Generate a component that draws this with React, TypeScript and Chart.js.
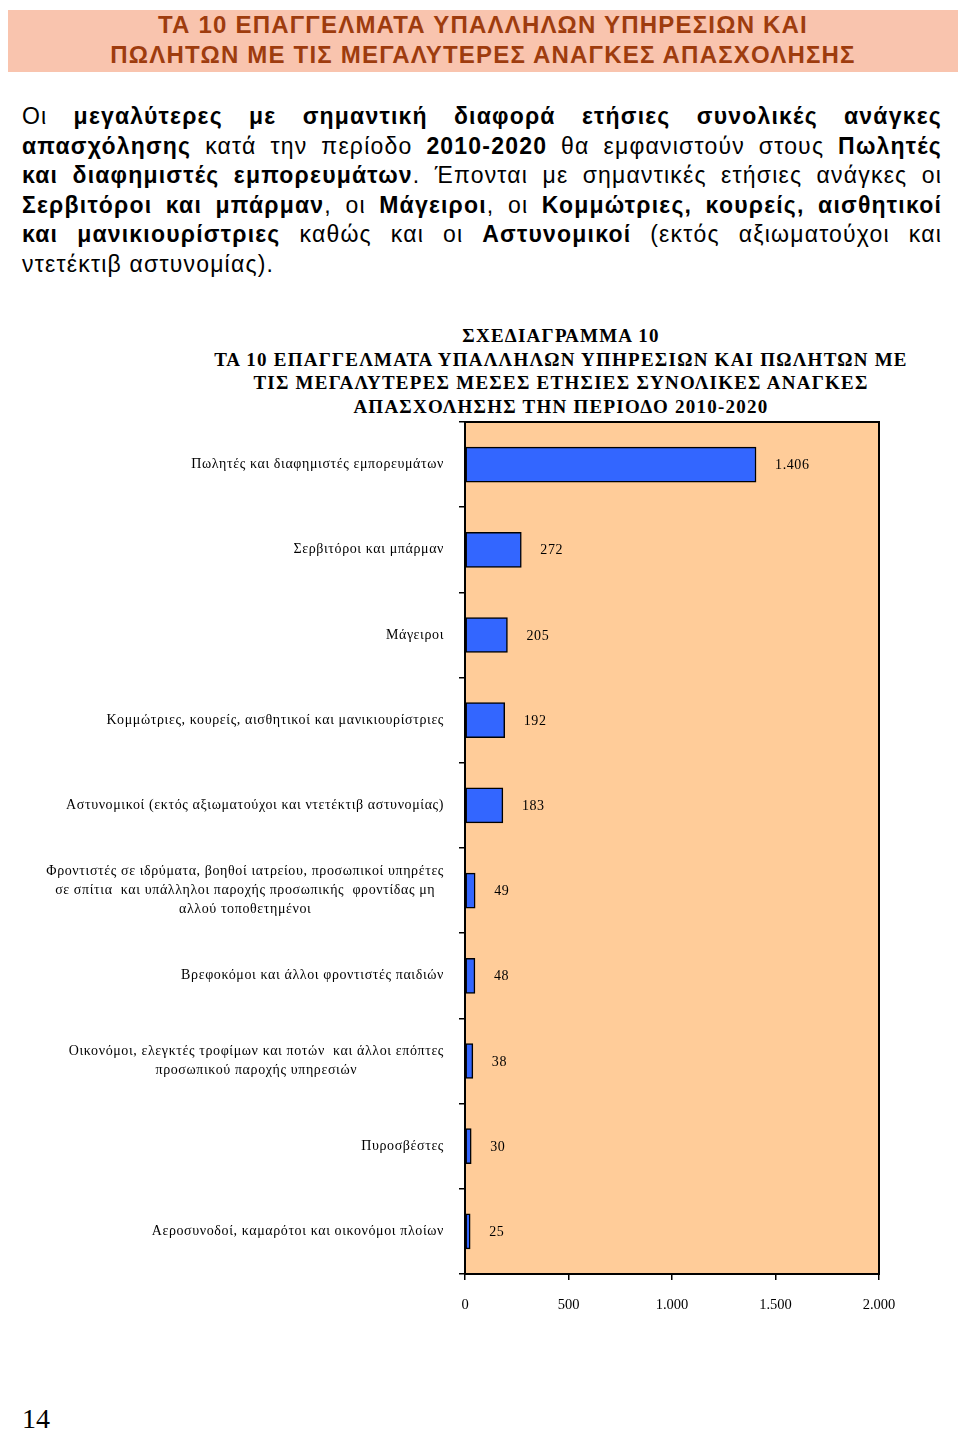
import React, { useEffect, useRef } from "react";
import { Chart, registerables } from "chart.js";

Chart.register(...registerables);

// ---- Data ----
const categories: string[][] = [
  ["Πωλητές και διαφημιστές εμπορευμάτων"],
  ["Σερβιτόροι και μπάρμαν"],
  ["Μάγειροι"],
  ["Κομμώτριες, κουρείς, αισθητικοί και μανικιουρίστριες"],
  ["Αστυνομικοί (εκτός αξιωματούχοι και ντετέκτιβ αστυνομίας)"],
  [
    "Φροντιστές σε ιδρύματα, βοηθοί ιατρείου, προσωπικοί υπηρέτες",
    "σε σπίτια  και υπάλληλοι παροχής προσωπικής  φροντίδας μη",
    "αλλού τοποθετημένοι",
  ],
  ["Βρεφοκόμοι και άλλοι φροντιστές παιδιών"],
  [
    "Οικονόμοι, ελεγκτές τροφίμων και ποτών  και άλλοι επόπτες",
    "προσωπικού παροχής υπηρεσιών",
  ],
  ["Πυροσβέστες"],
  ["Αεροσυνοδοί, καμαρότοι και οικονόμοι πλοίων"],
];
const values: number[] = [1406, 272, 205, 192, 183, 49, 48, 38, 30, 25];
const xTickValues: number[] = [0, 500, 1000, 1500, 2000];

const headerLines: string[] = [
  "ΤΑ 10 ΕΠΑΓΓΕΛΜΑΤΑ ΥΠΑΛΛΗΛΩΝ ΥΠΗΡΕΣΙΩΝ ΚΑΙ",
  "ΠΩΛΗΤΩΝ ΜΕ ΤΙΣ ΜΕΓΑΛΥΤΕΡΕΣ ΑΝΑΓΚΕΣ ΑΠΑΣΧΟΛΗΣΗΣ",
];
const chartTitleLines: string[] = [
  "ΣΧΕΔΙΑΓΡΑΜΜΑ 10",
  "ΤΑ 10 ΕΠΑΓΓΕΛΜΑΤΑ ΥΠΑΛΛΗΛΩΝ ΥΠΗΡΕΣΙΩΝ ΚΑΙ ΠΩΛΗΤΩΝ ΜΕ",
  "ΤΙΣ ΜΕΓΑΛΥΤΕΡΕΣ ΜΕΣΕΣ ΕΤΗΣΙΕΣ ΣΥΝΟΛΙΚΕΣ ΑΝΑΓΚΕΣ",
  "ΑΠΑΣΧΟΛΗΣΗΣ ΤΗΝ ΠΕΡΙΟΔΟ 2010-2020",
];
// paragraph lines: [text, bold] segments
const paragraphLines: [string, boolean][][] = [
  [["Οι ", false], ["μεγαλύτερες με σημαντική διαφορά ετήσιες συνολικές ανάγκες", true]],
  [["απασχόλησης", true], [" κατά την περίοδο ", false], ["2010-2020", true], [" θα εμφανιστούν στους ", false], ["Πωλητές", true]],
  [["και διαφημιστές εμπορευμάτων", true], [". Έπονται με σημαντικές ετήσιες ανάγκες οι", false]],
  [["Σερβιτόροι και μπάρμαν", true], [", οι ", false], ["Μάγειροι", true], [", οι ", false], ["Κομμώτριες, κουρείς, αισθητικοί", true]],
  [["και μανικιουρίστριες", true], [" καθώς και οι ", false], ["Αστυνομικοί", true], [" (εκτός αξιωματούχοι και", false]],
  [["ντετέκτιβ αστυνομίας).", false]],
];

const fmt = (v: number): string =>
  String(Math.round(v)).replace(/\B(?=(\d{3})+(?!\d))/g, ".");

const SERIF = '"Liberation Serif", "Times New Roman", serif';
const SANS = '"Liberation Sans", Arial, sans-serif';

const CANVAS_TOP = 412;
const CANVAS_H = 930;
const AREA_LEFT = 465;
const AREA_RIGHT = 879;
const AREA_TOP = 422;
const AREA_BOTTOM = 1274;
const LABEL_RIGHT = 444;

export default function App() {
  const ref = useRef<HTMLCanvasElement | null>(null);

  useEffect(() => {
    if (!ref.current) return;
    const areaPlugin = {
      id: "areaPlugin",
      beforeDraw(chart: any) {
        const { ctx, chartArea: a } = chart;
        ctx.save();
        ctx.fillStyle = "#FFCC99";
        ctx.fillRect(a.left, a.top, a.right - a.left, a.bottom - a.top);
        ctx.restore();
      },
      afterDraw(chart: any) {
        const { ctx, chartArea: a } = chart;
        ctx.save();
        ctx.strokeStyle = "#000";
        ctx.lineWidth = 2;
        ctx.strokeRect(a.left, a.top, a.right - a.left, a.bottom - a.top);
        // category labels
        const yScale = chart.scales.y;
        ctx.font = `14px ${SERIF}`;
        (ctx as any).letterSpacing = "0.6px";
        ctx.fillStyle = "#000";
        ctx.textAlign = "center";
        ctx.textBaseline = "middle";
        categories.forEach((lines, i) => {
          const y = yScale.getPixelForValue(i);
          const maxW = Math.max(...lines.map((l) => ctx.measureText(l).width));
          const cx = LABEL_RIGHT - maxW / 2;
          const lh = 19;
          const y0 = y - ((lines.length - 1) * lh) / 2;
          lines.forEach((l, j) => ctx.fillText(l, cx, y0 + j * lh));
        });
        // value labels
        const meta = chart.getDatasetMeta(0);
        ctx.textAlign = "left";
        meta.data.forEach((bar: any, i: number) => {
          ctx.fillText(fmt(values[i]), bar.x + 19, bar.y + 1);
        });
        ctx.restore();
      },
    };

    const chart = new Chart(ref.current, {
      type: "bar",
      data: {
        labels: categories.map((c) => c.join(" ")),
        datasets: [
          {
            data: values,
            backgroundColor: "#3366FF",
            borderColor: "#000000",
            borderWidth: 1.5,
            borderSkipped: false,
            barThickness: 35,
          },
        ],
      },
      options: {
        indexAxis: "y",
        responsive: false,
        animation: false,
        layout: { padding: { top: AREA_TOP - CANVAS_TOP, right: 960 - AREA_RIGHT, left: 0, bottom: 0 } },
        plugins: {
          legend: { display: false },
          tooltip: { enabled: false },
          title: { display: false },
        },
        scales: {
          x: {
            min: 0,
            max: 2000,
            afterBuildTicks: (s: any) => {
              s.ticks = xTickValues.map((v) => ({ value: v }));
            },
            ticks: {
              callback: (v: any) => fmt(Number(v)),
              font: { family: SERIF, size: 14.5 },
              color: "#000",
              padding: 16,
              maxRotation: 0,
            },
            grid: { drawOnChartArea: false, tickLength: 6, color: "#000", lineWidth: 1.5 },
            border: { color: "#000", width: 2 },
            afterFit: (s: any) => {
              s.height = CANVAS_H - (AREA_BOTTOM - CANVAS_TOP);
            },
          },
          y: {
            ticks: { display: false },
            grid: { offset: true, drawOnChartArea: false, tickLength: 6, color: "#000", lineWidth: 1.5 },
            border: { color: "#000", width: 2 },
            afterFit: (s: any) => {
              s.width = AREA_LEFT;
            },
          },
        },
      },
      plugins: [areaPlugin],
    });
    return () => chart.destroy();
  }, []);

  return (
    <div style={{ position: "absolute", left: 0, top: 0, width: 960, height: 1434, background: "#fff" }}>
      <div
        style={{
          position: "absolute",
          left: 8,
          top: 10,
          width: 950,
          height: 62,
          background: "#F9C4AE",
          color: "#9E3C0E",
          fontFamily: SANS,
          fontWeight: "bold",
          fontSize: 24,
          letterSpacing: "1.2px",
          lineHeight: "30px",
          textAlign: "center",
          paddingTop: 0,
          boxSizing: "border-box",
        }}
      >
        {headerLines.map((l, i) => (
          <div key={i}>{l}</div>
        ))}
      </div>
      <div
        style={{
          position: "absolute",
          left: 22,
          top: 102,
          width: 920,
          fontFamily: SANS,
          fontSize: 23,
          letterSpacing: "1.2px",
          lineHeight: "29.6px",
          color: "#000",
        }}
      >
        {paragraphLines.map((segs, i) => (
          <div
            key={i}
            style={{
              textAlign: i < paragraphLines.length - 1 ? "justify" : "left",
              textAlignLast: i < paragraphLines.length - 1 ? "justify" : "left",
              whiteSpace: "nowrap",
            } as any}
          >
            {segs.map(([t, b], j) => (
              <span key={j} style={{ fontWeight: b ? "bold" : "normal" }}>
                {t}
              </span>
            ))}
          </div>
        ))}
      </div>
      <div
        style={{
          position: "absolute",
          left: 161,
          top: 324,
          width: 800,
          textAlign: "center",
          fontFamily: SERIF,
          fontWeight: "bold",
          fontSize: 19,
          letterSpacing: "1.25px",
          lineHeight: "23.7px",
          color: "#000",
        }}
      >
        {chartTitleLines.map((l, i) => (
          <div key={i}>{l}</div>
        ))}
      </div>
      <canvas
        ref={ref}
        width={960}
        height={CANVAS_H}
        style={{ position: "absolute", left: 0, top: CANVAS_TOP, width: 960, height: CANVAS_H }}
      />
      <div
        style={{
          position: "absolute",
          left: 22,
          top: 1403,
          fontFamily: SERIF,
          fontSize: 28,
          lineHeight: "32px",
          color: "#000",
        }}
      >
        14
      </div>
    </div>
  );
}
